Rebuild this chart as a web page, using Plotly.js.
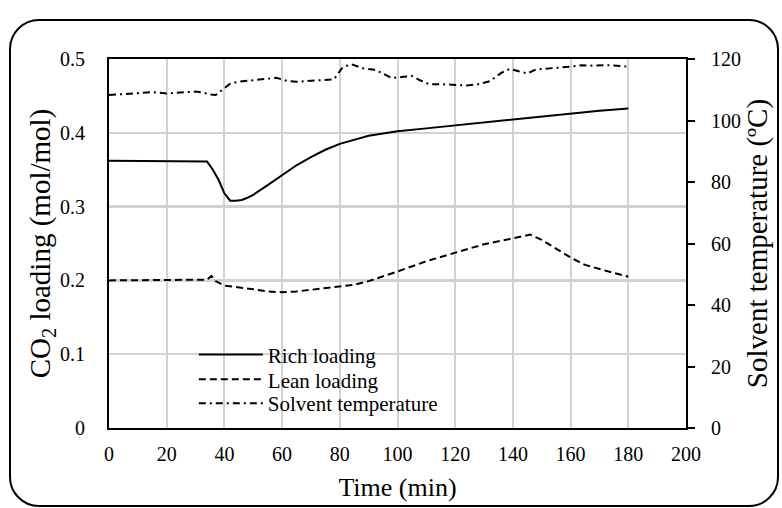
<!DOCTYPE html>
<html>
<head>
<meta charset="utf-8">
<script src="https://cdn.plot.ly/plotly-3.0.1.min.js"></script>
<style>
  html, body { margin: 0; padding: 0; background: #fff; }
  #wrap { position: relative; width: 782px; height: 508px; }
  #chart { position: absolute; left: 0; top: 0; width: 782px; height: 508px; }
  #frame { position: absolute; left: 9px; top: 19px; width: 766px; height: 484px;
           border: 2px solid #000; border-radius: 30px; pointer-events: none; }
</style>
</head>
<body>
<div id="wrap">
  <div id="chart"></div>
  <div id="frame"></div>
</div>
<script>
// Rich loading (mol/mol)
const richTime = [0, 10, 20, 30, 34, 36, 38, 40, 42, 44, 46, 48, 50, 55, 60, 65, 70, 75, 80, 85, 90, 95, 100, 110, 120, 130, 140, 150, 160, 170, 180];
const richLoading = [0.362, 0.362, 0.362, 0.362, 0.361, 0.350, 0.336, 0.318, 0.308, 0.308, 0.309, 0.312, 0.316, 0.329, 0.342, 0.356, 0.367, 0.377, 0.385, 0.391, 0.396, 0.399, 0.402, 0.406, 0.410, 0.414, 0.419, 0.423, 0.427, 0.430, 0.433];

// Lean loading (mol/mol)
const leanTime = [0, 10, 20, 30, 34, 35.5, 37, 40, 45, 50, 55, 60, 65, 70, 75, 80, 85, 90, 95, 100, 110, 120, 130, 140, 146, 150, 155, 160, 165, 170, 175, 180];
const leanLoading = [0.200, 0.200, 0.200, 0.200, 0.201, 0.206, 0.199, 0.193, 0.191, 0.188, 0.185, 0.184, 0.185, 0.187, 0.189, 0.191, 0.194, 0.199, 0.205, 0.212, 0.226, 0.238, 0.249, 0.257, 0.262, 0.255, 0.243, 0.231, 0.221, 0.215, 0.210, 0.205];

// Solvent temperature (ºC)
const tempTime = [0, 5, 10, 15, 20, 25, 30, 33, 35, 37, 40, 42, 45, 50, 55, 58, 62, 65, 70, 75, 78, 81, 84, 88, 92, 95, 98, 102, 105, 108, 111, 115, 120, 124, 128, 132, 136, 139, 142, 145, 148, 152, 156, 160, 164, 168, 172, 176, 180];
const solventTemp = [108.3, 108.6, 109.0, 109.2, 108.8, 109.2, 109.4, 109.0, 108.5, 108.3, 110.5, 112.0, 112.6, 113.0, 113.6, 113.9, 112.8, 112.6, 113.0, 113.3, 113.4, 117.3, 118.3, 117.0, 116.5, 115.3, 113.8, 114.2, 114.5, 113.0, 111.8, 111.8, 111.6, 111.4, 111.8, 112.8, 115.5, 116.8, 116.0, 115.3, 116.6, 117.0, 117.2, 117.5, 118.0, 117.8, 118.0, 117.8, 117.5];

// Axis ranges / tick steps
const xRange = [0, 200], xStep = 20;
const yLeftRange = [0, 0.5], yLeftStep = 0.1;
const yRightRange = [0, 120], yRightStep = 20;

const FONT = 'Liberation Serif, Times New Roman, serif';
const GRID = '#d2d2d2';

const traces = [
  { x: richTime, y: richLoading, name: 'Rich loading', type: 'scatter', mode: 'lines',
    legend: 'legend', line: { color: '#000', width: 2 } },
  { x: leanTime, y: leanLoading, name: 'Lean loading', type: 'scatter', mode: 'lines',
    legend: 'legend2', line: { color: '#000', width: 2, dash: '7px,4px' } },
  { x: tempTime, y: solventTemp, name: 'Solvent temperature', type: 'scatter', mode: 'lines',
    yaxis: 'y2', legend: 'legend3', line: { color: '#000', width: 2, dash: '7px,4px,2px,4px' } }
];

function legendAt(y) {
  return { x: 0.147, y: y, xanchor: 'left', yanchor: 'middle',
           bgcolor: 'rgba(0,0,0,0)', font: { family: FONT, size: 21, color: '#000' },
           itemwidth: 64, borderwidth: 0 };
}

const layout = {
  width: 782, height: 508,
  margin: { l: 109, r: 96, t: 59, b: 80 },
  paper_bgcolor: 'rgba(0,0,0,0)', plot_bgcolor: 'rgba(0,0,0,0)',
  font: { family: FONT, size: 20, color: '#000' },
  showlegend: true,
  legend: legendAt(0.198),
  legend2: legendAt(0.131),
  legend3: legendAt(0.066),
  xaxis: {
    range: xRange, tickmode: 'linear', tick0: 0, dtick: xStep,
    showgrid: true, gridcolor: GRID, gridwidth: 2,
    showline: true, linecolor: '#000', linewidth: 2, mirror: true,
    ticks: '', ticklabelstandoff: 7, zeroline: false,
    title: { text: 'Time (min)', font: { family: FONT, size: 26 }, standoff: 14 }
  },
  yaxis: {
    range: yLeftRange, tickmode: 'linear', tick0: 0, dtick: yLeftStep,
    showgrid: true, gridcolor: GRID, gridwidth: 2.5,
    showline: true, linecolor: '#000', linewidth: 2,
    ticks: '', ticklabelstandoff: 18, zeroline: false,
    title: { text: 'CO<sub>2</sub> loading (mol/mol)', font: { family: FONT, size: 29 }, standoff: 0 }
  },
  yaxis2: {
    range: yRightRange, tickmode: 'linear', tick0: 0, dtick: yRightStep,
    overlaying: 'y', side: 'right', showgrid: false,
    showline: true, linecolor: '#000', linewidth: 2,
    ticks: 'outside', ticklen: 7, tickwidth: 2, tickcolor: '#000',
    ticklabelstandoff: 12, zeroline: false,
    title: { text: 'Solvent temperature (ºC)', font: { family: FONT, size: 29 }, standoff: 5 }
  }
};

Plotly.newPlot('chart', traces, layout, { displayModeBar: false, staticPlot: true });
</script>
</body>
</html>
